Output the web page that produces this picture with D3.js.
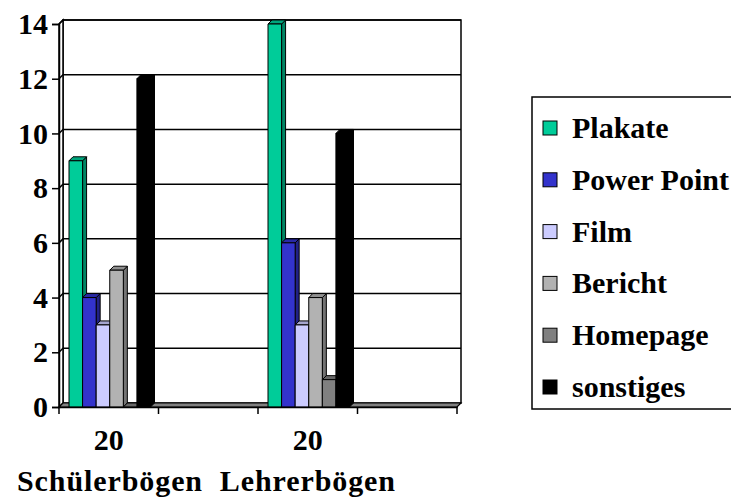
<!DOCTYPE html>
<html>
<head>
<meta charset="utf-8">
<script src="https://cdn.jsdelivr.net/npm/d3@7"></script>
<style>
  body { margin: 0; background: #fff; }
  text { font-family: "Liberation Serif", "Times New Roman", serif; font-weight: bold; }
</style>
</head>
<body>
<svg width="731" height="500"></svg>
<script>
var categories = ["k1", "k2", "k3", "k4"];
var categoryLabels = ["20", "", "20", ""];
var series = ["Plakate", "Power Point", "Film", "Bericht", "Homepage", "sonstiges"];
var colors = ["#00cc99", "#3333cc", "#ccccff", "#b2b2b2", "#808080", "#000000"];
var schueler = [9, 4, 3, 5, 0, 12];
var lehrer = [14, 6, 3, 4, 1, 10];
var yTicks = [0, 2, 4, 6, 8, 10, 12, 14];
var axisTitle = "Schülerbögen  Lehrerbögen";

var values = {k1: schueler, k3: lehrer};

var svg = d3.select("svg");
var dx = 4, dy = -4; // depth of the 3d look
var fs = 30;

var x = d3.scaleBand().domain(categories).range([59, 457]);
var xs = d3.scaleBand().domain(series).range([10, x.bandwidth() - 8]);
var y = d3.scaleLinear().domain([0, 14]).range([407, 24]);

var left = x.range()[0], right = x.range()[1];

// back wall
svg.append("rect")
  .attr("x", left + dx).attr("y", y(14) + dy)
  .attr("width", right - left).attr("height", y(0) - y(14))
  .attr("fill", "#fff").attr("stroke", "#000").attr("stroke-width", 1.5);

// left wall
svg.append("path")
  .attr("d", "M" + left + "," + y(14) + "L" + (left + dx) + "," + (y(14) + dy) +
    "L" + (left + dx) + "," + (y(0) + dy) + "L" + left + "," + y(0) + "Z")
  .attr("fill", "#fff").attr("stroke", "#000").attr("stroke-width", 1.5);

// gridlines
svg.append("g").selectAll("path")
  .data(yTicks.slice(1))
  .join("path")
  .attr("d", function(d) {
    return "M" + left + "," + y(d) + "L" + (left + dx) + "," + (y(d) + dy) + "L" + (right + dx) + "," + (y(d) + dy);
  })
  .attr("fill", "none").attr("stroke", "#000").attr("stroke-width", 1.5);

// floor
svg.append("path")
  .attr("d", "M" + left + "," + y(0) + "L" + (left + dx) + "," + (y(0) + dy) +
    "L" + (right + dx) + "," + (y(0) + dy) + "L" + right + "," + y(0) + "Z")
  .attr("fill", "#808080").attr("stroke", "#000").attr("stroke-width", 1.2);

// bars
var bars = [];
categories.forEach(function(c) {
  if (!values[c]) return;
  series.forEach(function(s, i) {
    bars.push({cat: c, s: s, v: values[c][i], color: colors[i]});
  });
});

var bw = xs.bandwidth();
var bg = svg.append("g");
bars.forEach(function(b) {
  var x0 = x(b.cat) + xs(b.s), x1 = x0 + bw;
  var yt = y(b.v), yb = y(0);
  var c = d3.color(b.color);
  var g = bg.append("g").attr("stroke", "#000").attr("stroke-width", 1).attr("stroke-linejoin", "round");
  g.append("path")
    .attr("d", "M" + x1 + "," + yt + "L" + (x1 + dx) + "," + (yt + dy) + "L" + (x1 + dx) + "," + (yb + dy) + "L" + x1 + "," + yb + "Z")
    .attr("fill", c.darker(1.2));
  g.append("path")
    .attr("d", "M" + x0 + "," + yt + "L" + (x0 + dx) + "," + (yt + dy) + "L" + (x1 + dx) + "," + (yt + dy) + "L" + x1 + "," + yt + "Z")
    .attr("fill", c.darker(0.6));
  g.append("rect")
    .attr("x", x0).attr("y", yt)
    .attr("width", bw).attr("height", yb - yt)
    .attr("fill", b.color);
});

// y axis
var yAxis = svg.append("g")
  .attr("transform", "translate(" + left + ",0)")
  .call(d3.axisLeft(y).tickValues(yTicks).tickSize(7).tickPadding(4).tickFormat(d3.format("d")));
yAxis.select(".domain").attr("stroke-width", 1.5);
yAxis.selectAll(".tick line").attr("stroke-width", 1.5);
yAxis.selectAll("text").attr("font-size", fs).attr("fill", "#000");

// x axis
var xAxis = svg.append("g")
  .attr("transform", "translate(0," + y(0) + ")")
  .call(d3.axisBottom(x).tickSize(0).tickPadding(22).tickFormat(function(d, i) { return categoryLabels[i]; }));
xAxis.select(".domain").attr("stroke-width", 1.5);
xAxis.selectAll("text").attr("font-size", fs).attr("fill", "#000");
xAxis.selectAll(".bound")
  .data(categories.map(function(c) { return x(c); }).concat([right]))
  .join("line")
  .attr("class", "bound")
  .attr("x1", function(d) { return d; }).attr("x2", function(d) { return d; })
  .attr("y1", 0).attr("y2", 7)
  .attr("stroke", "#000").attr("stroke-width", 1.5);

svg.append("text")
  .attr("x", 17).attr("y", 491)
  .attr("font-size", fs)
  .attr("textLength", 378).attr("lengthAdjust", "spacing")
  .style("white-space", "pre")
  .text(axisTitle);

// legend
var legend = svg.append("g").attr("transform", "translate(532,97)");
legend.append("rect")
  .attr("width", 240).attr("height", 312)
  .attr("fill", "#fff").attr("stroke", "#000").attr("stroke-width", 1.5);
var item = legend.selectAll(".item")
  .data(series)
  .join("g")
  .attr("class", "item")
  .attr("transform", function(d, i) { return "translate(0," + (31 + i * 51.8) + ")"; });
item.append("rect")
  .attr("x", 11).attr("y", -7).attr("width", 14).attr("height", 14)
  .attr("fill", function(d, i) { return colors[i]; })
  .attr("stroke", "#000").attr("stroke-width", 1);
item.append("text")
  .attr("x", 40).attr("dy", "0.33em")
  .attr("font-size", fs)
  .text(function(d) { return d; });
</script>
</body>
</html>
